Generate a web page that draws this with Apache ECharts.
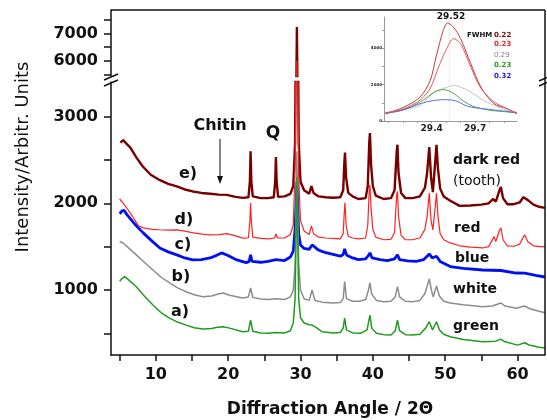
<!doctype html>
<html lang="en">
<head>
<meta charset="UTF-8"/>
<title>XRD patterns</title>
<script src="https://cdn.jsdelivr.net/npm/echarts@6/dist/echarts.min.js"></script>
<style>
html,body{margin:0;padding:0;background:#fff;}
#chart{width:547px;height:420px;}
</style>
</head>
<body>

<div id="chart"></div>

<script>

// main patterns, [2theta, intensity]
var darkRed = [[5.1,2700],[5.5,2730],[5.8,2700],[6.5,2640],[7.3,2530],[8.2,2425],[9.3,2330],[10.5,2270],[11.7,2225],[12.9,2195],[14,2160],[15.1,2137],[16.3,2120],[17.5,2110],[18.7,2100],[19.8,2098],[21,2075],[22,2063],[22.8,2070],[23.0,2250],[23.1,2600],[23.2,2250],[23.4,2080],[24.5,2060],[25.5,2060],[26.3,2070],[26.5,2250],[26.6,2535],[26.7,2250],[26.9,2075],[27.8,2080],[28.6,2110],[29.0,2200],[29.25,2700],[29.4,4500],[29.5,7230],[29.6,4500],[29.75,2700],[30.0,2250],[30.5,2150],[31.2,2110],[31.5,2200],[31.6,2215],[31.8,2120],[32.5,2080],[33.5,2070],[34.5,2065],[35.5,2070],[35.9,2150],[36.05,2450],[36.15,2587],[36.3,2300],[36.6,2120],[37.2,2080],[38,2050],[39,2060],[39.3,2200],[39.5,2700],[39.6,2810],[39.75,2450],[40,2200],[40.4,2090],[41.5,2050],[42.5,2060],[43.0,2150],[43.3,2600],[43.4,2676],[43.55,2350],[43.9,2120],[44.5,2060],[45.5,2060],[46.5,2080],[47.2,2180],[47.5,2350],[47.8,2650],[48.05,2300],[48.3,2130],[48.55,2400],[48.8,2676],[49.0,2400],[49.3,2170],[49.8,2080],[50.7,2030],[52,1971],[53.5,1975],[55,1985],[56,2000],[56.6,2050],[56.75,2063],[57.0,2020],[57.5,2150],[57.7,2190],[58.0,2060],[58.6,1990],[59.5,1990],[60.3,2010],[60.8,2070],[61.0,2087],[61.4,2040],[62.2,1985],[63,1960],[63.8,1948]];

var red = [[5.0,2050],[5.5,2000],[6.2,1920],[7.0,1820],[7.6,1740],[8.25,1717],[9.5,1700],[10.5,1695],[11.7,1690],[12.9,1694],[14,1680],[15.2,1660],[16.4,1645],[17.5,1636],[18.8,1640],[19.8,1650],[20.8,1630],[22,1598],[22.8,1600],[23.0,1800],[23.1,2005],[23.2,1800],[23.4,1610],[24.5,1595],[25.5,1590],[26.4,1600],[26.6,1647],[26.8,1600],[27.8,1600],[28.6,1640],[29.0,1750],[29.25,2400],[29.4,4000],[29.5,6000],[29.6,4000],[29.75,2300],[30.0,1800],[30.5,1680],[31.2,1640],[31.5,1740],[31.6,1763],[31.8,1650],[32.5,1610],[33.5,1600],[34.5,1595],[35.5,1590],[35.9,1650],[36.05,1900],[36.15,2010],[36.3,1750],[36.6,1620],[37.2,1600],[38,1590],[39,1600],[39.3,1750],[39.5,2150],[39.6,2214],[39.75,1950],[40,1700],[40.4,1610],[41.5,1580],[42.5,1585],[43.0,1660],[43.3,2100],[43.4,2137],[43.55,1850],[43.9,1630],[44.5,1580],[45.5,1580],[46.5,1600],[47.2,1700],[47.5,1850],[47.8,2118],[48.05,1800],[48.3,1694],[48.55,1900],[48.8,2118],[49.0,1850],[49.3,1650],[49.8,1580],[50.7,1543],[52,1510],[53.5,1495],[55.2,1485],[56,1500],[56.6,1590],[56.75,1616],[57.0,1560],[57.5,1690],[57.7,1717],[58.0,1580],[58.6,1510],[59.5,1505],[60.3,1530],[60.8,1610],[61.0,1636],[61.4,1560],[62.2,1510],[63,1500],[63.8,1500]];

var blue = [[5.0,1880],[5.3,1910],[5.6,1920],[6.0,1870],[6.4,1830],[7.3,1740],[8.25,1659],[9.4,1570],[10.55,1485],[11.7,1440],[12.9,1405],[14,1370],[15.1,1347],[16.3,1350],[17.5,1370],[18.4,1400],[19.1,1428],[19.9,1400],[21.2,1347],[22.5,1316],[22.9,1330],[23.1,1405],[23.3,1330],[24.5,1320],[25.5,1330],[26.6,1350],[27.8,1340],[28.6,1380],[29.0,1450],[29.25,1700],[29.4,2000],[29.5,2250],[29.6,2000],[29.75,1650],[30.0,1520],[30.5,1480],[31.2,1470],[31.6,1520],[32.5,1460],[33.5,1430],[34.5,1410],[35.5,1390],[35.9,1410],[36.1,1474],[36.4,1400],[37.2,1370],[38,1350],[39,1360],[39.4,1400],[39.6,1428],[39.9,1370],[41,1350],[42,1340],[43.0,1360],[43.4,1405],[43.7,1350],[44.8,1335],[46,1330],[47,1350],[47.5,1390],[47.8,1416],[48.2,1370],[48.8,1390],[49.3,1330],[50.7,1270],[52.5,1250],[55.2,1231],[57.7,1225],[59.8,1196],[61,1195],[62.5,1170],[63.8,1150]];

var white = [[5.0,1560],[5.5,1540],[6.3,1480],[7.3,1405],[8.4,1320],[9.6,1231],[10.7,1150],[11.9,1081],[13,1025],[14.2,980],[15.3,945],[16.5,922],[17.7,930],[18.5,950],[19.3,965],[20.2,940],[22,907],[22.8,920],[23.1,1023],[23.4,915],[24.5,895],[25.5,890],[26.6,900],[27.8,890],[28.6,920],[29.0,1000],[29.25,1300],[29.4,2000],[29.5,2600],[29.6,2000],[29.75,1300],[30.0,1000],[30.5,900],[31.2,880],[31.6,1000],[32,880],[33,860],[34.5,850],[35.5,855],[35.9,900],[36.1,1096],[36.35,900],[37.2,870],[38.2,870],[39,890],[39.4,1000],[39.6,1081],[39.85,950],[40.5,880],[41.5,865],[42.5,870],[43.1,920],[43.4,1038],[43.7,920],[44.5,870],[45.5,865],[46.5,880],[47.2,960],[47.8,1127],[48.2,960],[48.35,922],[48.8,1046],[49.2,930],[49.8,870],[50.7,850],[52.5,830],[55.2,807],[56.5,815],[57.7,850],[58.3,815],[59.8,790],[61,815],[61.8,780],[63,755],[63.8,738]];

var green = [[5.0,1100],[5.3,1130],[5.7,1154],[6.2,1120],[7.3,1038],[8.4,930],[9.6,827],[10.7,740],[11.9,676],[13,630],[14.2,595],[15.3,565],[16.5,549],[17.7,555],[18.5,570],[19.3,576],[20.2,560],[22,518],[22.8,525],[23.1,653],[23.4,525],[24.5,505],[25.5,500],[26.6,510],[27.8,505],[28.6,530],[29.0,620],[29.25,900],[29.4,1700],[29.5,2300],[29.6,1700],[29.75,900],[30.0,680],[30.5,619],[31.2,600],[31.6,595],[32.3,560],[33,518],[34.5,505],[35.5,510],[35.9,560],[36.1,676],[36.35,540],[37.2,505],[38.3,500],[39.2,540],[39.6,711],[39.85,560],[40.5,500],[41.5,485],[42.5,480],[43.1,530],[43.4,653],[43.7,530],[44.5,485],[45.5,480],[46.5,490],[47.3,560],[47.8,634],[48.25,538],[48.8,634],[49.2,540],[49.8,490],[50.7,460],[52.5,430],[55.2,402],[57,410],[57.7,433],[58.2,405],[60,364],[61,391],[61.6,365],[63,340],[63.8,330]];

// inset, zoom on the 29.5 peak
var insDarkRed = [[29.08,405],[29.2,734],[29.32,1315],[29.39,2230],[29.43,3507],[29.48,4970],[29.51,5370],[29.55,5150],[29.6,4515],[29.67,3145],[29.74,1863],[29.83,953],[29.92,680],[29.99,405]];
var insRed = [[29.08,450],[29.2,650],[29.32,1150],[29.39,1800],[29.45,3000],[29.5,3900],[29.55,4515],[29.6,4240],[29.67,2960],[29.74,1800],[29.83,1050],[29.92,680],[29.99,405]];
var insWhite = [[29.08,450],[29.2,620],[29.32,860],[29.42,1590],[29.5,1830],[29.55,1950],[29.6,1860],[29.67,1590],[29.74,1220],[29.83,860],[29.92,590],[29.99,500]];
var insGreen = [[29.08,420],[29.2,600],[29.32,1040],[29.42,1590],[29.48,1720],[29.52,1650],[29.57,1410],[29.63,1040],[29.7,770],[29.8,590],[29.92,500],[29.99,450]];
var insBlue = [[29.08,420],[29.2,600],[29.32,950],[29.42,1130],[29.5,1170],[29.57,1095],[29.65,800],[29.75,680],[29.85,590],[29.99,450]];

var xTicks = [5,10,15,20,25,30,35,40,45,50,55,60];
var xLabels = [10,20,30,40,50,60];
var yLowTicks = [500,1000,1500,2000,2500,3000];
var yLowLabels = [1000,2000,3000];
var yHighTicks = [5500,6000,6500,7000,7500];
var yHighLabels = [6000,7000];
var insXTicks = [29.1,29.2,29.3,29.4,29.5,29.6,29.7,29.8,29.9];
var insXLabels = [29.4,29.7];
var insYTicks = [0,1000,2000,3000,4000,5000];
var insYLabels = [0,2000,4000];

var FONT = '"DejaVu Sans", sans-serif';

function plain(v) { return String(v); }

function line(data, color, w, xi, yi, z) {
    return {
        type: 'line', data: data, xAxisIndex: xi, yAxisIndex: yi,
        showSymbol: false, silent: true, clip: true, z: z,
        lineStyle: { color: color, width: w }
    };
}

function txt(x, y, s, size, weight, color, align) {
    return {
        type: 'text', x: x, y: y, z: 100,
        style: { text: s, fontFamily: FONT, fontSize: size, fontWeight: weight,
                 fill: color || '#111', align: align || 'center', verticalAlign: 'middle' }
    };
}

function seg(x1, y1, x2, y2, w, color) {
    return { type: 'line', z: 100, shape: { x1: x1, y1: y1, x2: x2, y2: y2 },
             style: { stroke: color || '#111', lineWidth: w || 1.5 } };
}

var axisBlack = { show: true, lineStyle: { color: '#111', width: 1.5 } };
var tickLbl = { fontFamily: FONT, fontSize: 16, fontWeight: 'bold', color: '#111', formatter: plain };

var myChart = echarts.init(document.getElementById('chart'));

option = {
    animation: false,
    backgroundColor: '#fff',
    grid: [
        { left: 111, right: 2, top: 82, bottom: 65 },   // main (lower part)
        { left: 111, right: 2, top: 10, height: 66 },   // upper part, above the break
        { left: 384, top: 17, width: 133, height: 104 } // inset
    ],
    xAxis: [
        { type: 'value', gridIndex: 0, min: 3.8, max: 63.8,
          axisLine: axisBlack, splitLine: { show: false },
          axisTick: { show: true, customValues: xTicks, length: 6, lineStyle: { color: '#111', width: 1.5 } },
          axisLabel: Object.assign({ customValues: xLabels, margin: 12 }, tickLbl) },
        { type: 'value', gridIndex: 1, min: 3.8, max: 63.8, show: false },
        { type: 'value', gridIndex: 2, min: 29.07, max: 29.99,
          axisLine: { show: true, lineStyle: { color: '#999', width: 1 } }, splitLine: { show: false },
          axisTick: { show: true, customValues: insXTicks, length: 2, lineStyle: { color: '#999' } },
          axisLabel: { customValues: insXLabels, margin: 3, fontFamily: FONT, fontSize: 9, fontWeight: 'bold', color: '#222', formatter: plain } }
    ],
    yAxis: [
        { type: 'value', gridIndex: 0, min: 250, max: 3400,
          axisLine: axisBlack, splitLine: { show: false },
          axisTick: { show: true, customValues: yLowTicks, length: 7, lineStyle: { color: '#111', width: 1.5 } },
          axisLabel: Object.assign({ customValues: yLowLabels, margin: 13 }, tickLbl) },
        { type: 'value', gridIndex: 1, min: 5450, max: 7850,
          axisLine: axisBlack, splitLine: { show: false },
          axisTick: { show: true, customValues: yHighTicks, length: 7, lineStyle: { color: '#111', width: 1.5 } },
          axisLabel: Object.assign({ customValues: yHighLabels, margin: 13 }, tickLbl) },
        { type: 'value', gridIndex: 2, min: 0, max: 5700,
          axisLine: { show: true, lineStyle: { color: '#999', width: 1 } }, splitLine: { show: false },
          axisTick: { show: true, customValues: insYTicks, length: 2, lineStyle: { color: '#999' } },
          axisLabel: { customValues: insYLabels, margin: 2, fontFamily: FONT, fontSize: 4, fontWeight: 'bold', color: '#222', formatter: plain } }
    ],
    series: [
        line(darkRed, '#7a0000', 2.4, 0, 0, 2),
        line(red, '#ff2222', 1.2, 0, 0, 3),
        line(blue, '#0010ee', 2.8, 0, 0, 4),
        line(white, '#8c8c8c', 1.5, 0, 0, 5),
        line(green, '#1f9a1f', 1.5, 0, 0, 6),
        line(darkRed, '#7a0000', 2.4, 1, 1, 2),
        line(red, '#ff2222', 1.2, 1, 1, 3),
        Object.assign(line(insDarkRed, '#c23a3a', 1, 2, 2, 8), {
            smooth: 0.3,
            markLine: { silent: true, symbol: 'none', label: { show: false },
                        lineStyle: { color: '#ddd', type: 'dotted', width: 1 },
                        data: [{ xAxis: 29.52 }] }
        }),
        Object.assign(line(insRed, '#e05a5a', 1, 2, 2, 8), { smooth: 0.3 }),
        Object.assign(line(insWhite, '#c4c4c4', 1, 2, 2, 7), { smooth: 0.3 }),
        Object.assign(line(insGreen, '#4aa84a', 1, 2, 2, 7), { smooth: 0.3 }),
        Object.assign(line(insBlue, '#5870e0', 1, 2, 2, 7), { smooth: 0.3 })
    ],
    graphic: [
        // frame + axis breaks
        seg(111, 10, 545, 10),
        seg(545, 10, 545, 355),
        seg(104, 80, 118, 74), seg(104, 86, 118, 80),
        seg(539, 81, 547, 77.5), seg(539, 86, 547, 82.5),
        // axis titles
        txt(330, 410, 'Diffraction Angle / 2Θ', 17, 'bold'),
        { type: 'text', x: 23, y: 157, rotation: Math.PI / 2, z: 100,
          style: { text: 'Intensity/Arbitr. Units', fontFamily: FONT, fontSize: 18, fill: '#111',
                   align: 'center', verticalAlign: 'middle' } },
        // annotations
        txt(220, 126, 'Chitin', 16, 'bold'),
        seg(220, 139, 220, 180, 1),
        { type: 'polygon', z: 100, shape: { points: [[217, 176], [223, 176], [220, 184]] }, style: { fill: '#111' } },
        txt(273, 134, 'Q', 17, 'bold'),
        txt(188, 174, 'e)', 16, 'bold'),
        txt(184, 220, 'd)', 16, 'bold'),
        txt(183, 245, 'c)', 16, 'bold'),
        txt(181, 277, 'b)', 16, 'bold'),
        txt(180, 312, 'a)', 16, 'bold'),
        txt(453, 160, 'dark red', 14, 'bold', '#111', 'left'),
        txt(453, 181, '(tooth)', 14, 'normal', '#111', 'left'),
        txt(454, 228, 'red', 14, 'bold', '#111', 'left'),
        txt(455, 258, 'blue', 14, 'bold', '#111', 'left'),
        txt(453, 289, 'white', 14, 'bold', '#111', 'left'),
        txt(453, 326, 'green', 14, 'bold', '#111', 'left'),
        // inset labels
        txt(451, 17, '29.52', 9, 'bold'),
        txt(467, 35, 'FWHM', 7, 'bold', '#111', 'left'),
        txt(494, 35, '0.22', 7, 'bold', '#8b0000', 'left'),
        txt(494, 44, '0.23', 7, 'bold', '#ff2020', 'left'),
        txt(494, 55, '0.29', 7, 'normal', '#888', 'left'),
        txt(494, 65, '0.23', 7, 'bold', '#1e9e1e', 'left'),
        txt(494, 76, '0.32', 7, 'bold', '#1a1aff', 'left')
    ]
};

myChart.setOption(option);

</script>

</body>
</html>
